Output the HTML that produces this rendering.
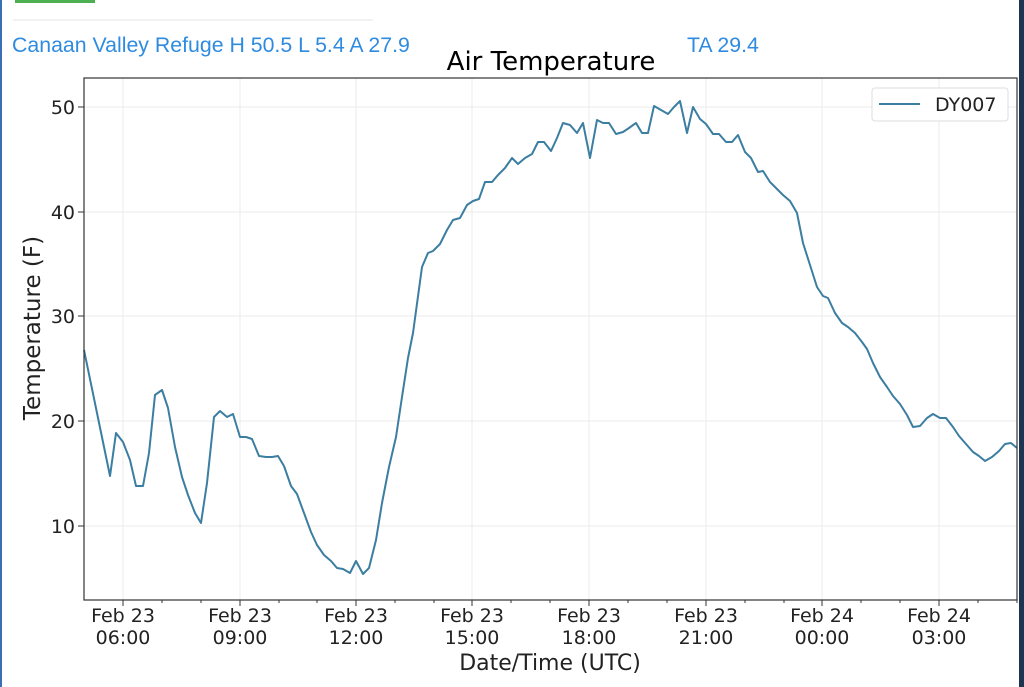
<!DOCTYPE html>
<html><head><meta charset="utf-8"><style>
body{margin:0;background:#fff;}
svg{display:block;font-family:"DejaVu Sans","Liberation Sans",sans-serif;}
</style></head><body>
<svg width="1024" height="687" viewBox="0 0 1024 687" xmlns="http://www.w3.org/2000/svg">
<rect width="1024" height="687" fill="#fff"/>
<rect x="0" y="0" width="2" height="687" fill="#3a6fb5"/>
<rect x="1019" y="0" width="5" height="687" fill="#1c3553"/>
<rect x="15" y="0" width="80" height="3" fill="#4caf50"/>
<line x1="13" y1="20" x2="373" y2="20" stroke="#e6e6e6" stroke-width="1"/>
<text x="12" y="52" font-family="Liberation Sans, sans-serif" font-size="21.3" fill="#2f8be0">Canaan Valley Refuge H 50.5 L 5.4 A 27.9</text>
<text x="687" y="52" font-family="Liberation Sans, sans-serif" font-size="21.3" fill="#2f8be0">TA 29.4</text>
<text x="551" y="70" font-size="26" text-anchor="middle" fill="#000">Air Temperature</text>
<g stroke="#ebebeb" stroke-width="1">
<line x1="123" y1="78" x2="123" y2="600"/><line x1="240" y1="78" x2="240" y2="600"/><line x1="356" y1="78" x2="356" y2="600"/><line x1="472" y1="78" x2="472" y2="600"/><line x1="589" y1="78" x2="589" y2="600"/><line x1="706" y1="78" x2="706" y2="600"/><line x1="822" y1="78" x2="822" y2="600"/><line x1="939" y1="78" x2="939" y2="600"/>
<line x1="84" y1="107" x2="1017" y2="107"/><line x1="84" y1="212" x2="1017" y2="212"/><line x1="84" y1="316" x2="1017" y2="316"/><line x1="84" y1="421" x2="1017" y2="421"/><line x1="84" y1="526" x2="1017" y2="526"/>
</g>
<polyline fill="none" stroke="#3b7ea1" stroke-width="2" stroke-linejoin="round" points="84,350 97,413 110,476 116,433 123,442 130,460 136,486 143,486 149,453 155,395 162,390 168,408 175,447 182,477 188,495 195,513 201,523 207,483 214,417 220,411 227,417 233,414 240,437 246,437 252,439 259,456 266,457 272,457 278,456 284,466 291,486 297,494 304,513 311,532 317,545 324,555 331,561 337,568 343,569 350,573 356,561 363,574 369,568 376,540 382,503 389,467 396,437 402,397 408,358 413,333 422,267 428,253 433,251 440,244 447,230 453,220 460,218 467,205 473,201 479,199 485,182 492,182 498,175 505,168 512,158 518,164 525,158 532,154 538,142 544,142 551,151 557,138 563,123 570,125 577,133 583,123 590,158 597,120 603,123 609,123 616,134 623,132 629,128 636,123 642,133 648,133 654,106 661,110 668,114 674,107 680,101 687,133 693,107 700,119 706,124 713,134 719,134 726,142 732,142 738,135 745,152 751,158 758,172 763,171 770,182 777,189 783,195 790,201 797,213 803,243 810,265 817,287 823,296 828,298 835,313 842,323 848,327 855,333 862,342 867,349 873,363 880,377 887,387 893,396 900,404 907,415 913,427 920,426 927,418 933,414 940,418 946,418 953,427 959,436 966,444 973,452 979,456 985,461 992,457 999,451 1005,444 1011,443 1017,448"/>
<rect x="84" y="78" width="933" height="522" fill="none" stroke="#333" stroke-width="1.2"/>
<g stroke="#333" stroke-width="1">
<line x1="78" y1="107" x2="84" y2="107"/><line x1="78" y1="212" x2="84" y2="212"/><line x1="78" y1="316" x2="84" y2="316"/><line x1="78" y1="421" x2="84" y2="421"/><line x1="78" y1="526" x2="84" y2="526"/>
<line x1="123" y1="600" x2="123" y2="606"/><line x1="240" y1="600" x2="240" y2="606"/><line x1="356" y1="600" x2="356" y2="606"/><line x1="472" y1="600" x2="472" y2="606"/><line x1="589" y1="600" x2="589" y2="606"/><line x1="706" y1="600" x2="706" y2="606"/><line x1="822" y1="600" x2="822" y2="606"/><line x1="939" y1="600" x2="939" y2="606"/>
<line x1="162" y1="600" x2="162" y2="603"/><line x1="201" y1="600" x2="201" y2="603"/><line x1="279" y1="600" x2="279" y2="603"/><line x1="317" y1="600" x2="317" y2="603"/><line x1="395" y1="600" x2="395" y2="603"/><line x1="434" y1="600" x2="434" y2="603"/><line x1="511" y1="600" x2="511" y2="603"/><line x1="550" y1="600" x2="550" y2="603"/><line x1="628" y1="600" x2="628" y2="603"/><line x1="667" y1="600" x2="667" y2="603"/><line x1="745" y1="600" x2="745" y2="603"/><line x1="784" y1="600" x2="784" y2="603"/><line x1="861" y1="600" x2="861" y2="603"/><line x1="900" y1="600" x2="900" y2="603"/><line x1="978" y1="600" x2="978" y2="603"/><line x1="1017" y1="600" x2="1017" y2="603"/>
</g>
<g font-size="19" fill="#222" text-anchor="end">
<text x="75" y="114">50</text><text x="75" y="219">40</text><text x="75" y="323">30</text><text x="75" y="428">20</text><text x="75" y="533">10</text>
</g>
<g font-size="19" fill="#222" text-anchor="middle">
<text x="123" y="622">Feb 23</text><text x="123" y="644">06:00</text>
<text x="240" y="622">Feb 23</text><text x="240" y="644">09:00</text>
<text x="356" y="622">Feb 23</text><text x="356" y="644">12:00</text>
<text x="472" y="622">Feb 23</text><text x="472" y="644">15:00</text>
<text x="589" y="622">Feb 23</text><text x="589" y="644">18:00</text>
<text x="706" y="622">Feb 23</text><text x="706" y="644">21:00</text>
<text x="822" y="622">Feb 24</text><text x="822" y="644">00:00</text>
<text x="939" y="622">Feb 24</text><text x="939" y="644">03:00</text>
<text x="550" y="670" font-size="22">Date/Time (UTC)</text>
<text transform="translate(40,328) rotate(-90)" font-size="23">Temperature (F)</text>
</g>
<rect x="872" y="88" width="136" height="33" rx="3" fill="#fff" fill-opacity="0.9" stroke="#ddd"/>
<line x1="879" y1="104" x2="920" y2="104" stroke="#3b7ea1" stroke-width="2"/>
<text x="935" y="111" font-size="19" fill="#222">DY007</text>
</svg>
</body></html>
